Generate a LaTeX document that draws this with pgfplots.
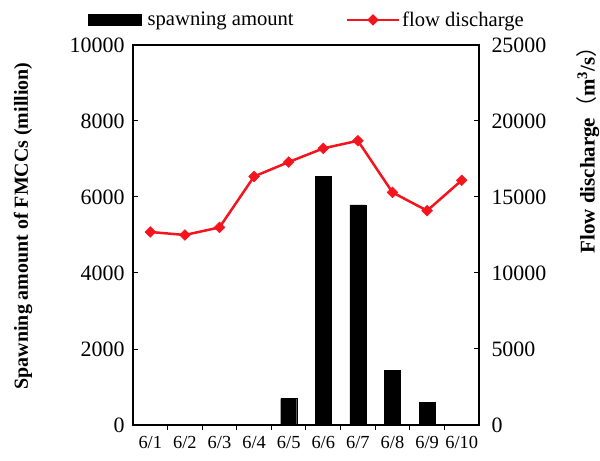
\documentclass[border=0pt]{standalone}
\usepackage{fontspec}
\setmainfont{Liberation Serif}
\newfontfamily\cjk{Noto Sans CJK SC}
\usepackage{pgfplots}
\pgfplotsset{compat=1.18}

\definecolor{flowred}{RGB}{245,20,30}

\pgfplotsset{
  chartbase/.style={
    width=346bp, height=380bp, scale only axis,
    xmin=0.5, xmax=10.5,
    ymin=0,
    axis line style={line width=1.6bp},
    tick style={line width=1bp, black},
    major tick length=5bp,
    minor tick length=5bp,
    /pgf/number format/assume math mode=true,
    /pgf/number format/set thousands separator={},
    scaled y ticks=false,
    yticklabel style={font=\fontsize{22}{26}\selectfont},
  },
}

\begin{document}
\begin{tikzpicture}
\begin{axis}[chartbase,
  ymax=10000, ytick={0,2000,...,10000},
  ytick pos=left,
  tick align=inside,
  yticklabel style={xshift=-5bp},
  xtick={1,...,10},
  xticklabels={6/1,6/2,6/3,6/4,6/5,6/6,6/7,6/8,6/9,6/10},
  xticklabel style={font=\fontsize{18.5}{22}\selectfont, yshift=-3bp},
  major x tick style={draw=none},
  minor xtick={1.5,2.5,...,9.5},
  xtick pos=bottom,
  ylabel={\textbf{Spawning amount of FMCCs (million)}},
  ylabel style={font=\fontsize{20}{24}\selectfont, at={(axis description cs:-0.318,0.524)}, anchor=center},
  ybar, bar width=16bp,
]
% spawning amount (million), 6/1-6/4 are zero
\addplot[fill=black, draw=black] coordinates {
  (5,693) (6,6544) (7,5790) (8,1430) (9,590)
};
\coordinate (sw) at (rel axis cs:0,0);
\coordinate (ne) at (rel axis cs:1,1);
\end{axis}

\begin{axis}[chartbase,
  ymax=25000, ytick={0,5000,...,25000},
  axis y line*=right, axis x line=none,
  tick align=inside,
  yticklabel style={xshift=9bp},
  ylabel={\textbf{Flow discharge}{\cjk （}\textbf{m\textsuperscript{3}/s}{\cjk ）}},
  ylabel style={font=\fontsize{21}{25}\selectfont, at={(axis description cs:1.315,0.737)}, anchor=center},
  legend style={at={(axis description cs:0.503,1.066)}, anchor=center, draw=none, fill=none,
    legend columns=2, font=\fontsize{20.7}{24}\selectfont,
    /tikz/every even column/.append style={column sep=50bp}},
]
\addlegendimage{legend image code/.code={\fill[black] (0bp,-5.5bp) rectangle (53bp,5.5bp); \path (57bp,0bp);}}
\addlegendentry{spawning amount}
\addplot[flowred, line width=2.5bp, mark=square*, mark size=3.8bp,
  mark options={rotate=45, fill=flowred, draw=flowred, line width=0.5bp},
  legend image code/.code={
    \draw[flowred, line width=2.5bp] (0bp,0bp) -- (52bp,0bp);
    \fill[flowred] (22bp,0bp) -- (26bp,4bp) -- (30bp,0bp) -- (26bp,-4bp) -- cycle;}]
  coordinates {
  (1,12700) (2,12500) (3,13000) (4,16350) (5,17300)
  (6,18200) (7,18700) (8,15300) (9,14100) (10,16100)
};
\addlegendentry{flow discharge}
\end{axis}

\pgfresetboundingbox
\useasboundingbox ([shift={(-133bp,-36bp)}]sw) rectangle ([shift={(121bp,45bp)}]ne);
\end{tikzpicture}
\end{document}
